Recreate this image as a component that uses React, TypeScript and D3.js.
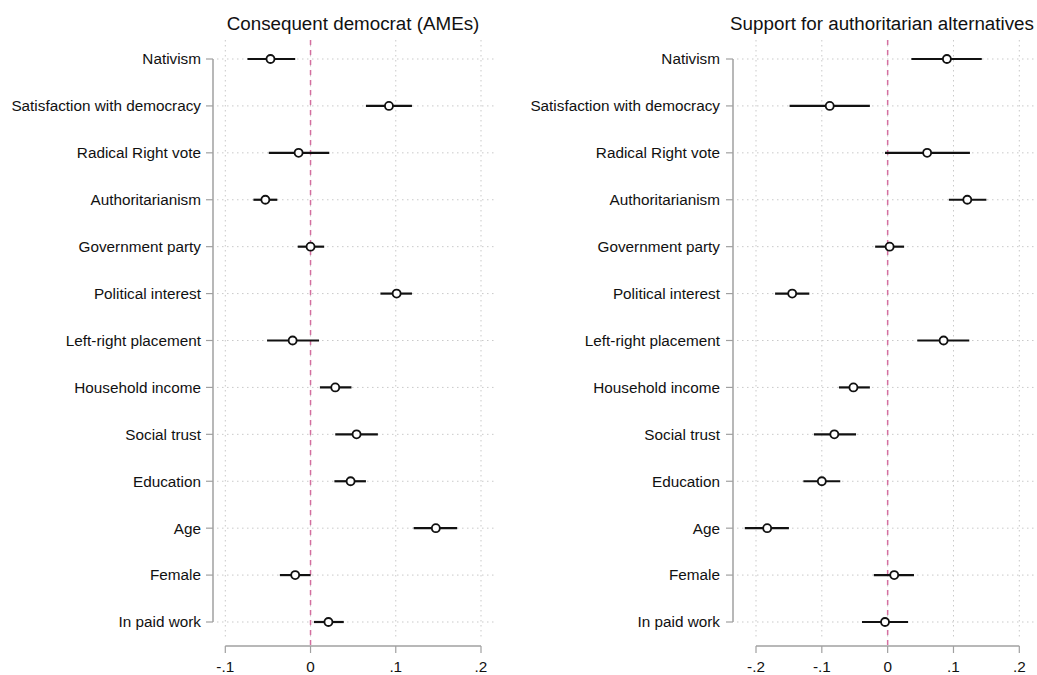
import React, { useEffect, useRef } from 'react';
import * as d3 from 'd3';

const categories = [
  'Nativism',
  'Satisfaction with democracy',
  'Radical Right vote',
  'Authoritarianism',
  'Government party',
  'Political interest',
  'Left-right placement',
  'Household income',
  'Social trust',
  'Education',
  'Age',
  'Female',
  'In paid work',
];

// Consequent democrat (AMEs): estimate, lower, upper
const demEst = [-0.047, 0.092, -0.014, -0.053, 0.0, 0.101, -0.021, 0.029, 0.054, 0.047, 0.147, -0.018, 0.021];
const demLo = [-0.074, 0.065, -0.049, -0.067, -0.015, 0.082, -0.051, 0.011, 0.029, 0.028, 0.121, -0.036, 0.004];
const demHi = [-0.018, 0.119, 0.022, -0.039, 0.016, 0.119, 0.01, 0.048, 0.079, 0.065, 0.172, 0.0, 0.039];

// Support for authoritarian alternatives
const authEst = [0.09, -0.088, 0.06, 0.121, 0.003, -0.145, 0.085, -0.052, -0.081, -0.1, -0.183, 0.01, -0.004];
const authLo = [0.036, -0.149, -0.004, 0.093, -0.019, -0.171, 0.045, -0.074, -0.112, -0.128, -0.217, -0.021, -0.039];
const authHi = [0.143, -0.027, 0.125, 0.15, 0.025, -0.119, 0.124, -0.027, -0.048, -0.072, -0.15, 0.04, 0.031];

const demTicks = [-0.1, 0, 0.1, 0.2];
const authTicks = [-0.2, -0.1, 0, 0.1, 0.2];
// Stata style labels: -.1, 0, .1
const tickLabel = (v: number) =>
  v === 0 ? '0' : d3.format('.1f')(v).replace('\u2212', '-').replace('0.', '.');

const titles = ['Consequent democrat (AMEs)', 'Support for authoritarian alternatives'];

const W = 1037;
const H = 675;
const FONT = '"Liberation Sans", Arial, Helvetica, sans-serif';

export default function App() {
  const svgRef = useRef<SVGSVGElement>(null);

  useEffect(() => {
    if (!svgRef.current) return;
    const svg = d3.select(svgRef.current);
    svg.selectAll('*').remove();

    const y = d3.scalePoint<string>().domain(categories).range([59, 622]);

    const panels = [
      {
        title: titles[0],
        est: demEst, lo: demLo, hi: demHi, ticks: demTicks,
        domain: [-0.1, 0.2], range: [225.3, 481],
        axisX: 213, plotL: 217, plotR: 495, labelX: 201, titleX: 353,
      },
      {
        title: titles[1],
        est: authEst, lo: authLo, hi: authHi, ticks: authTicks,
        domain: [-0.2, 0.2], range: [756, 1019.3],
        axisX: 733, plotL: 737, plotR: 1037, labelX: 720, titleX: 882,
      },
    ];

    panels.forEach((p) => {
      const x = d3.scaleLinear().domain(p.domain).range(p.range);
      const g = svg.append('g');

      // title
      g.append('text')
        .attr('x', p.titleX)
        .attr('y', 30)
        .attr('text-anchor', 'middle')
        .attr('font-size', '18.8px')
        .attr('font-family', FONT)
        .attr('fill', '#111')
        .text(p.title);

      // vertical grid
      g.selectAll('line.vgrid')
        .data(p.ticks)
        .enter()
        .append('line')
        .attr('x1', (d) => x(d))
        .attr('x2', (d) => x(d))
        .attr('y1', 40)
        .attr('y2', 640)
        .attr('stroke', '#c9c9c9')
        .attr('stroke-width', 1)
        .attr('stroke-dasharray', '1.5,3.5');

      // horizontal grid
      g.selectAll('line.hgrid')
        .data(categories)
        .enter()
        .append('line')
        .attr('x1', p.plotL)
        .attr('x2', p.plotR)
        .attr('y1', (d) => y(d)!)
        .attr('y2', (d) => y(d)!)
        .attr('stroke', '#c9c9c9')
        .attr('stroke-width', 1)
        .attr('stroke-dasharray', '1.5,3.5');

      // zero reference line
      g.append('line')
        .attr('x1', x(0))
        .attr('x2', x(0))
        .attr('y1', 40)
        .attr('y2', 646)
        .attr('stroke', '#d46fa0')
        .attr('stroke-width', 1.5)
        .attr('stroke-dasharray', '5,5');

      // y axis
      g.append('line')
        .attr('x1', p.axisX)
        .attr('x2', p.axisX)
        .attr('y1', y(categories[0])!)
        .attr('y2', y(categories[categories.length - 1])!)
        .attr('stroke', '#a0a0a0')
        .attr('stroke-width', 1.5);
      g.selectAll('line.ytick')
        .data(categories)
        .enter()
        .append('line')
        .attr('x1', p.axisX - 7)
        .attr('x2', p.axisX)
        .attr('y1', (d) => y(d)!)
        .attr('y2', (d) => y(d)!)
        .attr('stroke', '#a0a0a0')
        .attr('stroke-width', 1.2);
      g.selectAll('text.ylab')
        .data(categories)
        .enter()
        .append('text')
        .attr('x', p.labelX)
        .attr('y', (d) => y(d)!)
        .attr('dy', '0.35em')
        .attr('text-anchor', 'end')
        .attr('font-size', '15.3px')
        .attr('font-family', FONT)
        .attr('fill', '#111')
        .text((d) => d);

      // x axis
      const xa = g.append('g').attr('transform', 'translate(0,646)');
      xa.append('line')
        .attr('x1', x(p.ticks[0]))
        .attr('x2', x(p.ticks[p.ticks.length - 1]))
        .attr('stroke', '#a0a0a0')
        .attr('stroke-width', 1.5);
      p.ticks.forEach((t) => {
        xa.append('line')
          .attr('x1', x(t))
          .attr('x2', x(t))
          .attr('y1', 0)
          .attr('y2', 7)
          .attr('stroke', '#a0a0a0')
          .attr('stroke-width', 1.2);
        xa.append('text')
          .attr('x', x(t))
          .attr('y', 26)
          .attr('text-anchor', 'middle')
          .attr('font-size', '15.3px')
          .attr('font-family', FONT)
          .attr('fill', '#111')
          .text(tickLabel(t));
      });

      // CIs
      g.selectAll('line.ci')
        .data(categories)
        .enter()
        .append('line')
        .attr('x1', (_, i) => x(p.lo[i]))
        .attr('x2', (_, i) => x(p.hi[i]))
        .attr('y1', (d) => y(d)!)
        .attr('y2', (d) => y(d)!)
        .attr('stroke', '#111')
        .attr('stroke-width', 2.2);

      // points
      g.selectAll('circle.pt')
        .data(categories)
        .enter()
        .append('circle')
        .attr('cx', (_, i) => x(p.est[i]))
        .attr('cy', (d) => y(d)!)
        .attr('r', 4)
        .attr('fill', 'white')
        .attr('stroke', '#111')
        .attr('stroke-width', 1.8);
    });
  }, []);

  return (
    <svg
      ref={svgRef}
      width={W}
      height={H}
      style={{ position: 'absolute', left: 0, top: 0, background: 'white' }}
    />
  );
}
